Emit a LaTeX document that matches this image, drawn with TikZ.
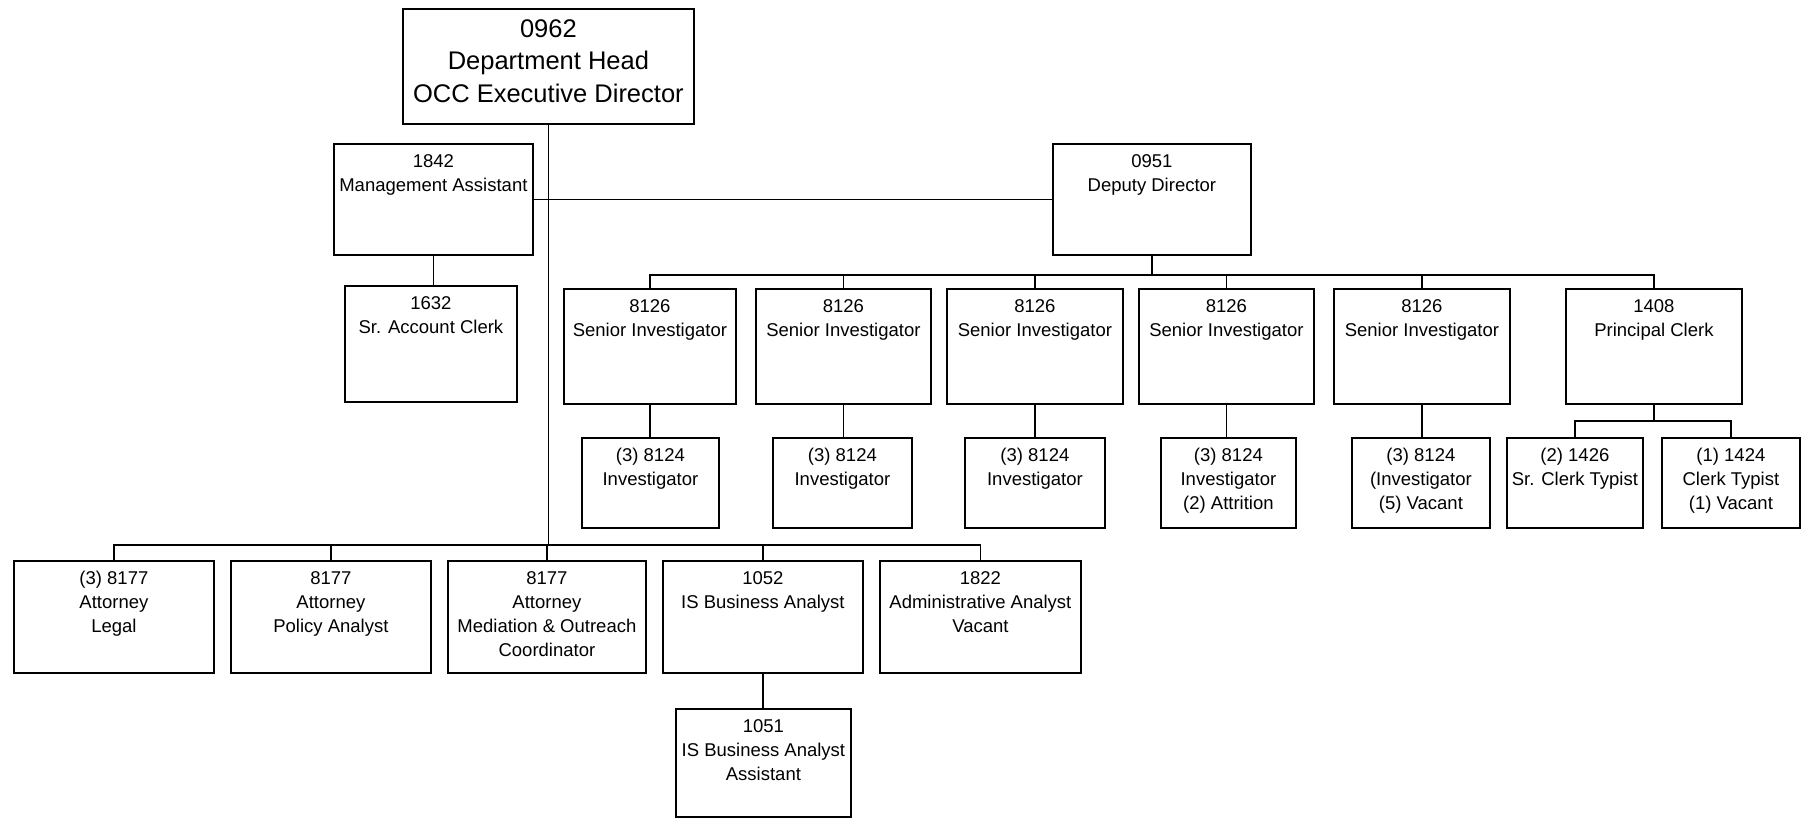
\documentclass[tikz,border=0pt]{standalone}
\usepackage{fontspec}
\usetikzlibrary{calc}
\setmainfont{Liberation Sans}
\tikzset{
  orgframe/.style={draw=black, line width=1.8pt, inner sep=0pt, fill=white},
  orglbl/.style={font=\fontsize{18.5}{24}\selectfont, align=center, inner sep=0pt},
  toplbl/.style={font=\fontsize{25.5}{32.5}\selectfont, align=center, inner sep=0pt},
  link/.style={draw=black, line width=1.4pt}
}
% name, x1, y1, x2, y2, label style, text
\newcommand\orgbox[7]{%
  \node[orgframe, anchor=north west, minimum width={#4-#2}, minimum height={#5-#3}] (#1) at (#2,#3) {};
  \node[#6, anchor=north] (#1-t) at ([yshift=-11pt]#1.north) {#7};
}
\begin{document}
\begin{tikzpicture}[x=1pt, y=-1pt]
\useasboundingbox[fill=white] (0,0) rectangle (1803,818);

% boxes
\orgbox{head}{402}{8}{693}{123}{toplbl}{0962\\Department Head\\OCC Executive Director}
\orgbox{mgmt}{333}{143}{532}{254}{orglbl}{1842\\Management Assistant}
\orgbox{dep}{1052}{143}{1250}{254}{orglbl}{0951\\Deputy Director}
\orgbox{sac}{344}{285}{516}{401}{orglbl}{1632\\Sr. Account Clerk}

\orgbox{si1}{563}{288}{735}{403}{orglbl}{8126\\Senior Investigator}
\orgbox{si2}{755}{288}{930}{403}{orglbl}{8126\\Senior Investigator}
\orgbox{si3}{946}{288}{1122}{403}{orglbl}{8126\\Senior Investigator}
\orgbox{si4}{1138}{288}{1313}{403}{orglbl}{8126\\Senior Investigator}
\orgbox{si5}{1333}{288}{1509}{403}{orglbl}{8126\\Senior Investigator}
\orgbox{pc}{1565}{288}{1741}{403}{orglbl}{1408\\Principal Clerk}

\orgbox{inv1}{581}{437}{718}{527}{orglbl}{(3) 8124\\Investigator}
\orgbox{inv2}{772}{437}{911}{527}{orglbl}{(3) 8124\\Investigator}
\orgbox{inv3}{964}{437}{1104}{527}{orglbl}{(3) 8124\\Investigator}
\orgbox{inv4}{1160}{437}{1295}{527}{orglbl}{(3) 8124\\Investigator\\(2) Attrition}
\orgbox{inv5}{1351}{437}{1489}{527}{orglbl}{(3) 8124\\(Investigator\\(5) Vacant}
\orgbox{sct}{1506}{437}{1642}{527}{orglbl}{(2) 1426\\Sr. Clerk Typist}
\orgbox{ct}{1661}{437}{1799}{527}{orglbl}{(1) 1424\\Clerk Typist\\(1) Vacant}

\orgbox{att1}{13}{560}{213}{672}{orglbl}{(3) 8177\\Attorney\\Legal}
\orgbox{att2}{230}{560}{430}{672}{orglbl}{8177\\Attorney\\Policy Analyst}
\orgbox{att3}{447}{560}{645}{672}{orglbl}{8177\\Attorney\\Mediation \& Outreach\\Coordinator}
\orgbox{isba}{662}{560}{862}{672}{orglbl}{1052\\IS Business Analyst}
\orgbox{aa}{879}{560}{1080}{672}{orglbl}{1822\\Administrative Analyst\\Vacant}
\orgbox{isbaa}{675}{708}{850}{816}{orglbl}{1051\\IS Business Analyst\\Assistant}

% bus points
\coordinate (busA) at ($(dep.south)+(0,19)$);
\coordinate (busB) at (head.south |- 0,545);
\coordinate (busC) at ($(pc.south)+(0,16)$);

% connectors
\path[link] (head.south) -- (busB);
\path[link] (mgmt.east) -- (mgmt.east -| dep.west);
\path[link] (mgmt.south) -- (mgmt.south |- sac.north);
\path[link] (dep.south) -- (busA);
\foreach \c in {si1,si2,si3,si4,si5,pc}{\path[link] (busA) -| (\c.north);}
\foreach \s/\i in {si1/inv1,si2/inv2,si3/inv3,si4/inv4,si5/inv5}{\path[link] (\s.south) -- (\s.south |- \i.north);}
\path[link] (pc.south) -- (busC);
\foreach \c in {sct,ct}{\path[link] (busC) -| (\c.north);}
\foreach \c in {att1,att2,att3,isba,aa}{\path[link] (busB) -| (\c.north);}
\path[link] (isba.south) -- (isba.south |- isbaa.north);
\end{tikzpicture}
\end{document}
